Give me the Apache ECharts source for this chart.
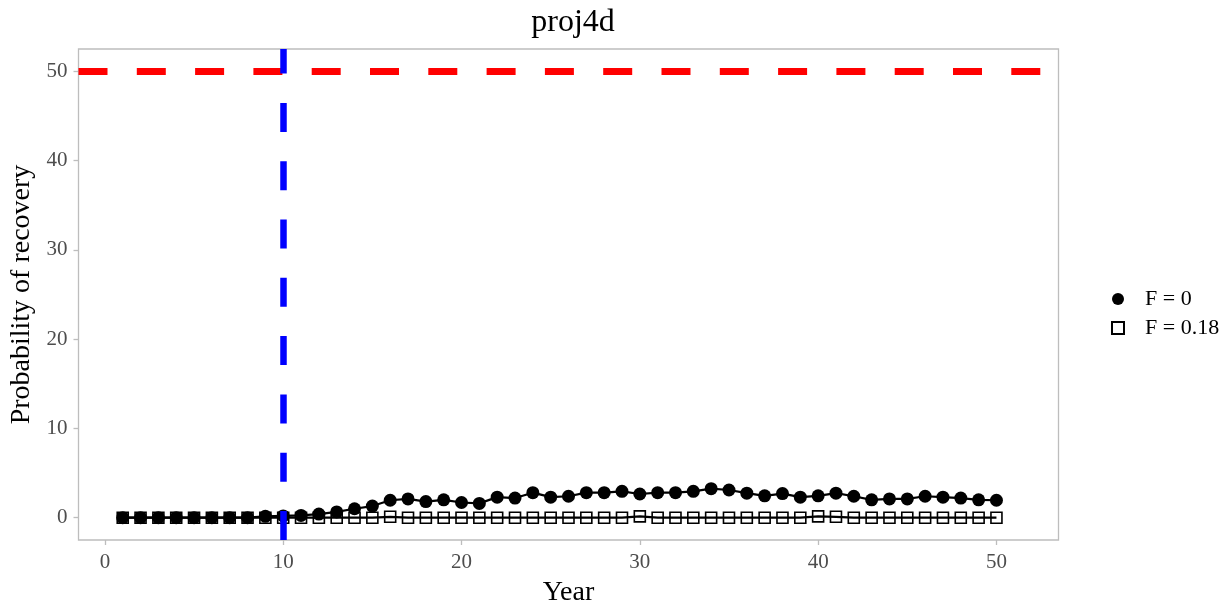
<!DOCTYPE html>
<html>
<head>
<meta charset="utf-8">
<script src="https://cdn.jsdelivr.net/npm/echarts@6/dist/echarts.min.js"></script>
<style>
  html, body { margin: 0; padding: 0; background: #fff; }
  #chart { width: 1228px; height: 607px; }
</style>
</head>
<body>
<div id="chart"></div>
<script>
// years 1..50
const years = [1,2,3,4,5,6,7,8,9,10,11,12,13,14,15,16,17,18,19,20,21,22,23,24,25,
  26,27,28,29,30,31,32,33,34,35,36,37,38,39,40,41,42,43,44,45,46,47,48,49,50];
// F = 0
const f0 = [0,0,0,0,0,0,0,0,0.15,0.2,0.25,0.4,0.65,1.0,1.3,1.95,2.1,1.8,2.0,1.7,1.6,2.3,2.2,2.8,2.3,
  2.4,2.8,2.8,2.95,2.65,2.8,2.8,2.95,3.25,3.1,2.75,2.45,2.7,2.3,2.45,2.75,2.4,2.0,2.1,2.1,2.4,2.3,2.2,2.0,1.95];
// F = 0.18
const f018 = [0,0,0,0,0,0,0,0,0,0,0,0,0,0,0,0.1,0,0,0,0,0,0,0,0,0,
  0,0,0,0,0.15,0,0,0,0,0,0,0,0,0,0.15,0.1,0,0,0,0,0,0,0,0,0];
const xTicks = [0, 10, 20, 30, 40, 50];
const yTicks = [0, 10, 20, 30, 40, 50];
const targetLevel = 50;
const refYear = 10;

const font = 'Liberation Serif';
const chart = echarts.init(document.getElementById('chart'));

const pair = arr => years.map((y, i) => [y, arr[i]]);

const tickStyle = { color: '#bdbdbd', width: 1.3 };

chart.setOption({
  animation: false,
  title: {
    text: 'proj4d',
    left: 568, top: 2, textAlign: 'center',
    textStyle: { fontFamily: font, fontSize: 32, fontWeight: 'normal', color: '#000' }
  },
  grid: {
    left: 78.5, right: 169.5, top: 49, bottom: 67, outerBoundsMode: 'none',
    show: true, borderColor: '#bdbdbd', borderWidth: 1.3
  },
  legend: {
    orient: 'vertical', left: 1106, top: 283, itemGap: 7,
    itemWidth: 12, itemHeight: 12,
    textStyle: { fontFamily: font, fontSize: 22, color: '#000', padding: [0, 0, 0, 16] },
    data: [{ name: 'F = 0', icon: 'circle' }, { name: 'F = 0.18', icon: 'rect' }]
  },
  xAxis: {
    type: 'value', min: -1.48, max: 53.48,
    name: 'Year', nameLocation: 'middle', nameGap: 39,
    nameTextStyle: { fontFamily: font, fontSize: 28, color: '#000' },
    axisLine: { show: false, onZero: false },
    axisTick: { show: true, customValues: xTicks, length: 5, lineStyle: tickStyle },
    axisLabel: { customValues: xTicks, margin: 12, fontFamily: font, fontSize: 21, color: '#4d4d4d' },
    splitLine: { show: false }
  },
  yAxis: {
    type: 'value', min: -2.5, max: 52.5,
    name: 'Probability of recovery', nameLocation: 'middle', nameGap: 34,
    nameTextStyle: { fontFamily: font, fontSize: 28, color: '#000' },
    axisLine: { show: false, onZero: false },
    axisTick: { show: true, customValues: yTicks, length: 5, lineStyle: tickStyle },
    axisLabel: { customValues: yTicks, margin: 11, fontFamily: font, fontSize: 21, color: '#4d4d4d' },
    splitLine: { show: false }
  },
  series: [
    {
      name: 'F = 0.18', type: 'line', data: pair(f018), z: 2,
      symbol: 'rect', symbolSize: 11,
      lineStyle: { color: '#000', width: 2.2 },
      itemStyle: { color: 'rgba(255,255,255,0)', borderColor: '#000', borderWidth: 1.6 }
    },
    {
      name: 'F = 0', type: 'line', data: pair(f0), z: 3,
      symbol: 'circle', symbolSize: 13,
      lineStyle: { color: '#000', width: 2.2 },
      itemStyle: { color: '#000', borderWidth: 0 }
    },
    {
      type: 'line', data: [], z: 4, silent: true,
      markLine: {
        silent: true, symbol: 'none', label: { show: false }, animation: false,
        lineStyle: { color: '#ff0000', width: 7, type: [29, 29.3], cap: 'butt' },
        data: [{ yAxis: targetLevel }]
      }
    },
    {
      type: 'line', data: [], z: 5, silent: true,
      markLine: {
        silent: true, symbol: 'none', label: { show: false }, animation: false,
        lineStyle: { color: '#0000ff', width: 6.5, type: [29, 29.3], cap: 'butt' },
        data: [{ xAxis: refYear }]
      }
    }
  ]
});
</script>
</body>
</html>
